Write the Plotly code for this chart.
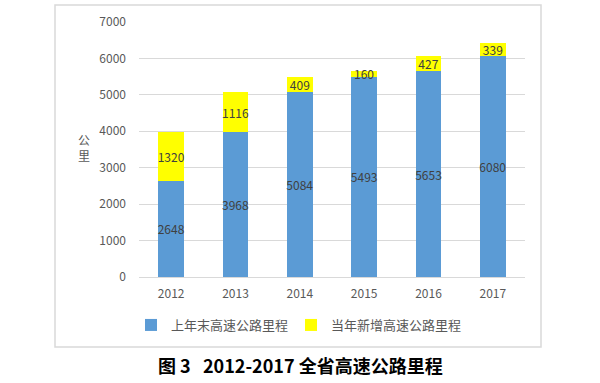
import plotly.graph_objects as go

years = ["2012", "2013", "2014", "2015", "2016", "2017"]
prev_end = [2648, 3968, 5084, 5493, 5653, 6080]
new_added = [1320, 1116, 409, 160, 427, 339]
name_prev = "上年末高速公路里程"
name_new = "当年新增高速公路里程"
y_ticks = [0, 1000, 2000, 3000, 4000, 5000, 6000, 7000]

FONT = "Noto Sans CJK SC, Liberation Sans, sans-serif"

fig = go.Figure()
fig.add_trace(go.Bar(
    x=years, y=prev_end, name=name_prev, legend="legend",
    marker=dict(color="#5B9BD5", line=dict(width=0)),
    text=[str(v) for v in prev_end], textposition="inside", textangle=0,
    insidetextanchor="middle", constraintext="none",
    textfont=dict(color="#404040", size=12, family=FONT),
))
fig.add_trace(go.Bar(
    x=years, y=new_added, name=name_new, legend="legend2",
    marker=dict(color="#FFFF00", line=dict(width=0)),
    text=[str(v) for v in new_added], textposition="inside", textangle=0,
    insidetextanchor="middle", constraintext="none",
    textfont=dict(color="#404040", size=12, family=FONT),
))

L, R, T, B = 139, 525, 22, 277
W, H = 600, 383
pw, ph = R - L, B - T

def px(x):
    return (x - L) / pw

def py(y):
    return (B - y) / ph

leg_font = dict(size=13, color="#595959")

fig.update_layout(
    width=W, height=H,
    barmode="stack", bargap=0.6,
    margin=dict(l=L, r=W - R, t=T, b=H - B, pad=0, autoexpand=False),
    plot_bgcolor="white", paper_bgcolor="white",
    font=dict(family=FONT, size=12, color="#595959"),
    showlegend=True,
    legend=dict(orientation="h", x=px(131), xanchor="left", bgcolor="rgba(0,0,0,0)",
                y=py(325), yanchor="middle", font=leg_font),
    legend2=dict(orientation="h", x=px(291), xanchor="left", bgcolor="rgba(0,0,0,0)",
                 y=py(325), yanchor="middle", font=leg_font),
    xaxis=dict(showgrid=False, showline=False, ticks="", automargin=False,
               ticklabelstandoff=8, tickfont=dict(size=12, color="#595959")),
    yaxis=dict(range=[0, 7000], tickvals=y_ticks, showgrid=True, gridcolor="#D9D9D9",
               gridwidth=1, zeroline=True, zerolinecolor="#D9D9D9", zerolinewidth=1,
               showline=False, ticks="", ticklabelstandoff=12, automargin=False,
               tickfont=dict(size=12, color="#595959")),
    shapes=[dict(type="rect", xref="paper", yref="paper",
                 x0=px(55), x1=px(541), y0=py(347), y1=py(5),
                 line=dict(color="#D9D9D9", width=1.5), layer="below")],
    annotations=[
        dict(text="公<br>里", xref="paper", yref="paper", x=px(84), y=py(147),
             showarrow=False, font=dict(size=12, color="#595959"),
             xanchor="center", yanchor="middle"),
        dict(text="<b>图 3\u00a0\u00a0\u00a02012-2017 全省高速公路里程</b>", xref="paper", yref="paper",
             x=px(300), y=py(365), showarrow=False,
             font=dict(size=18, color="#000000"), xanchor="center", yanchor="middle"),
    ],
)

fig.write_html("out.html", config={"displayModeBar": False},
               post_script="document.body.style.margin='0';document.body.style.padding='0';")
